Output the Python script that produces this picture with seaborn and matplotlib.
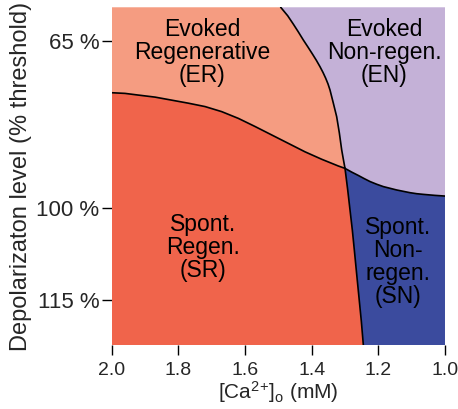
import matplotlib
matplotlib.use("Agg")
import matplotlib.pyplot as plt
import seaborn as sns
import numpy as np
import pandas as pd

# Boundary curves of the four response regimes.
# x: extracellular calcium (mM); y: depolarization level on a 0-1 axis scale
er_sr_x = [2.000, 1.960, 1.920, 1.870, 1.820, 1.770, 1.720, 1.670, 1.620,
           1.570, 1.520, 1.470, 1.420, 1.370, 1.320, 1.300]
er_sr_y = [0.747, 0.745, 0.740, 0.734, 0.725, 0.716, 0.706, 0.691, 0.671,
           0.647, 0.622, 0.597, 0.572, 0.550, 0.530, 0.523]

er_en_x = [1.493, 1.472, 1.455, 1.440, 1.425, 1.411, 1.398, 1.386, 1.375,
           1.366, 1.358, 1.351, 1.345, 1.335, 1.325, 1.317, 1.310, 1.305, 1.300]
er_en_y = [1.000, 0.975, 0.950, 0.927, 0.903, 0.882, 0.862, 0.843, 0.824,
           0.807, 0.790, 0.773, 0.755, 0.716, 0.676, 0.628, 0.578, 0.550, 0.523]

en_sn_x = [1.300, 1.280, 1.260, 1.243, 1.225, 1.205, 1.185, 1.165, 1.145,
           1.125, 1.105, 1.085, 1.065, 1.030, 1.000]
en_sn_y = [0.523, 0.512, 0.502, 0.493, 0.484, 0.476, 0.469, 0.464, 0.459,
           0.455, 0.451, 0.448, 0.446, 0.443, 0.441]

sr_sn_x = [1.300, 1.292, 1.285, 1.278, 1.272, 1.265, 1.258, 1.251, 1.245]
sr_sn_y = [0.523, 0.460, 0.400, 0.340, 0.281, 0.210, 0.140, 0.070, 0.000]

ytick_pos = [0.900, 0.405, 0.133]
ytick_labels = ["65 %", "100 %", "115 %"]
xticks = [2.0, 1.8, 1.6, 1.4, 1.2, 1.0]

region_labels = {
    "ER": "Evoked\nRegenerative\n(ER)",
    "EN": "Evoked\nNon-regen.\n(EN)",
    "SR": "Spont.\nRegen.\n(SR)",
    "SN": "Spont.\nNon-\nregen.\n(SN)",
}
region_colors = {
    "ER": "#F59C81",
    "EN": "#C4B1D7",
    "SR": "#F0644B",
    "SN": "#3B4B9E",
}

sns.set_style("ticks")
plt.rcParams["font.family"] = ["Liberation Sans", "DejaVu Sans"]
plt.rcParams["mathtext.default"] = "regular"

fig = plt.figure(figsize=(4.58, 4.09), dpi=100)
ax = fig.add_axes([0.2439, 0.1565, 0.7277, 0.8257])

X0, X1 = 2.0, 1.0
r = lambda a: list(reversed(a))

# Region polygons assembled from the shared boundaries
sr_poly_x = [X0] + er_sr_x + sr_sn_x[1:] + [X0]
sr_poly_y = [0.0] + er_sr_y + sr_sn_y[1:] + [0.0]

er_poly_x = [X0] + er_sr_x + r(er_en_x)[1:]
er_poly_y = [1.0] + er_sr_y + r(er_en_y)[1:]

en_poly_x = er_en_x + en_sn_x[1:] + [X1]
en_poly_y = er_en_y + en_sn_y[1:] + [1.0]

sn_poly_x = en_sn_x + [X1] + r(sr_sn_x)[:-1]
sn_poly_y = en_sn_y + [0.0] + r(sr_sn_y)[:-1]

for key, (px, py) in {
    "SR": (sr_poly_x, sr_poly_y),
    "ER": (er_poly_x, er_poly_y),
    "EN": (en_poly_x, en_poly_y),
    "SN": (sn_poly_x, sn_poly_y),
}.items():
    ax.fill(px, py, color=region_colors[key], lw=0, zorder=1)

for bx, by in [(er_sr_x, er_sr_y), (er_en_x, er_en_y),
               (en_sn_x, en_sn_y), (sr_sn_x, sr_sn_y)]:
    df = pd.DataFrame({"x": bx, "y": by})
    sns.lineplot(data=df, x="x", y="y", sort=False, estimator=None,
                 color="black", lw=1.2, ax=ax, zorder=3)

label_pos = {"ER": (1.728, 0.866), "EN": (1.183, 0.866),
             "SR": (1.725, 0.289), "SN": (1.140, 0.247)}
for key, (lx, ly) in label_pos.items():
    ax.text(lx, ly, region_labels[key], ha="center", va="center",
            fontsize=16.5, linespacing=1.0, color="black", zorder=4)

ax.set_xlim(X0, X1)
ax.set_ylim(0, 1)
ax.set_xticks(xticks)
ax.set_xticklabels([f"{v:.1f}" for v in xticks])
ax.set_yticks(ytick_pos)
ax.set_yticklabels(ytick_labels)
ax.tick_params(axis="x", labelsize=14, length=7, width=1, color="black", pad=5)
ax.tick_params(axis="y", labelsize=16, length=7, width=1, color="black", pad=2)
for s in ax.spines.values():
    s.set_visible(False)

ax.set_xlabel(r"[Ca$^{2}$$^{+}$]$_{o}$ (mM)", fontsize=15, labelpad=0)
ax.set_ylabel("Depolarizaton level (% threshold)", fontsize=17, labelpad=3)

fig.savefig("out.png", dpi=100)
